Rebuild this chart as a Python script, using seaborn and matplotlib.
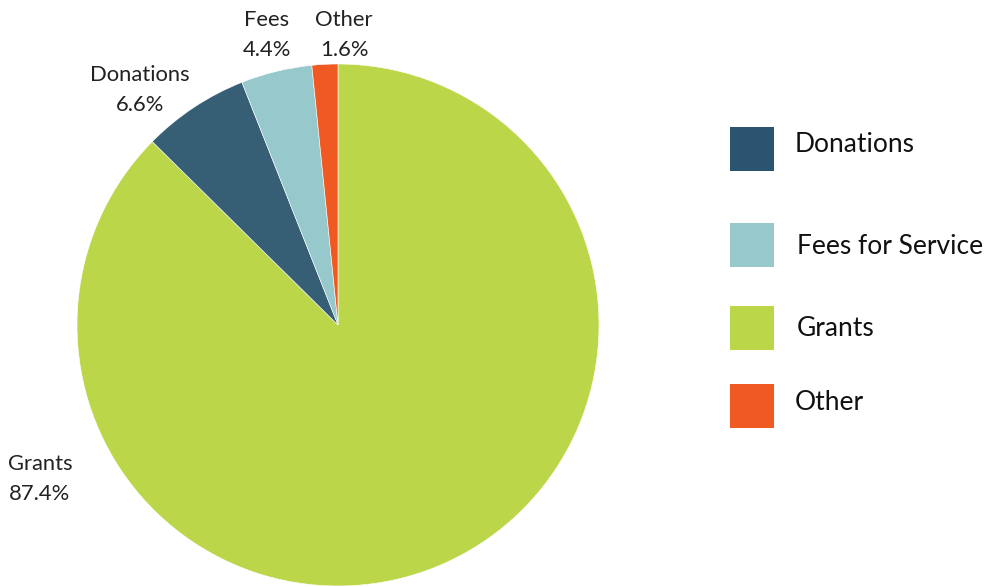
import matplotlib
matplotlib.use("Agg")
import matplotlib.pyplot as plt
from matplotlib.patches import Rectangle
import seaborn as sns

# ---- data ----
categories = ["Donations", "Fees for Service", "Grants", "Other"]
short_labels = ["Donations", "Fees", "Grants", "Other"]
values = [6.6, 4.4, 87.4, 1.6]
colors = ["#2b5470", "#97c9cc", "#bcd649", "#f05a22"]
pie_colors = ["#365e75", "#97c9cc", "#bcd649", "#f05a22"]

# drawing order (clockwise from top): Grants, Donations, Fees, Other
order = [2, 0, 1, 3]

sns.set_theme(style="white")
plt.rcParams["font.family"] = ["Lato", "DejaVu Sans"]

W, H = 985, 587
fig = plt.figure(figsize=(W / 100, H / 100), dpi=100)
fig.patch.set_facecolor("white")

cx, cy, r = 338, 325, 261
ax = fig.add_axes([(cx - r) / W, (H - cy - r) / H, 2 * r / W, 2 * r / H])
ax.pie([values[i] for i in order],
       colors=[pie_colors[i] for i in order],
       startangle=90, counterclock=False, radius=1,
       wedgeprops=dict(edgecolor="white", linewidth=0.4))
ax.set_xlim(-1, 1)
ax.set_ylim(-1, 1)
ax.set_aspect("equal")
ax.axis("off")

# outside labels (name + percent)
label_pos = {0: (-0.759, 0.900), 1: (-0.272, 1.111), 2: (-1.142, -0.590), 3: (0.023, 1.111)}
for i, (x, y) in label_pos.items():
    ax.text(x, y, f"{short_labels[i]}\n{values[i]:.1f}%", ha="center", va="center",
            fontsize=15.8, color="#222222", linespacing=1.62)

# legend
lax = fig.add_axes([0, 0, 1, 1])
lax.set_xlim(0, W)
lax.set_ylim(H, 0)
lax.axis("off")
lax.patch.set_alpha(0)
sq_centers = [149, 245, 328, 406]
txt_x = [795, 797, 797, 795]
txt_y = [145, 246, 329, 402]
for i, cat in enumerate(categories):
    lax.add_patch(Rectangle((730, sq_centers[i] - 22), 44, 44, color=colors[i], lw=0))
    lax.text(txt_x[i], txt_y[i], cat, ha="left", va="center", fontsize=19, color="#111111")

fig.savefig("out.png", dpi=100)
